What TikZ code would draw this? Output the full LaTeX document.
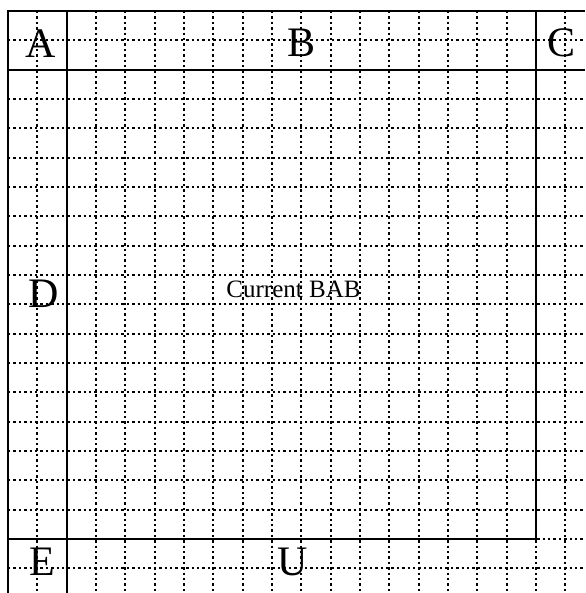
\documentclass[tikz,border=0pt]{standalone}
\usepackage{fontspec}
\setmainfont{Liberation Serif}
\usetikzlibrary{positioning}

\begin{document}
\begin{tikzpicture}[x=1pt,y=-1pt,
  gridline/.style={line width=1.8pt,dash pattern=on 2.4pt off 3pt},
  frameline/.style={line width=1.9pt},
  biglabel/.style={anchor=base,inner sep=0pt,font=\fontsize{42}{48}\selectfont},
  smalllabel/.style={anchor=base,inner sep=0pt,font=\fontsize{25}{30}\selectfont}]
\useasboundingbox (0,0) rectangle (585,593);
\fill[white] (0,0) rectangle (585,593);
% dotted grid
\foreach \k in {1,...,19} {
  \draw[gridline] ({8+\k*29.333},11) -- ({8+\k*29.333},593);
  \draw[gridline] (8,{11+\k*29.333}) -- (585,{11+\k*29.333});
}
% solid frame
\coordinate (tl) at (8,11);
\coordinate (tr) at (585,11);
\coordinate (bl) at (8,593);
\coordinate (hl) at (8,69.7);
\coordinate (hr) at (585,69.7);
\coordinate (vt) at (66.7,11);
\coordinate (vb) at (66.7,593);
\coordinate (rt) at (536,11);
\coordinate (rb) at (536,539);
\coordinate (lb) at (8,539);
\draw[frameline] (bl) -- (tl) -- (tr);
\draw[frameline] (hl) -- (hr);
\draw[frameline] (vt) -- (vb);
\draw[frameline] (rt) -- (rb) -- (lb);
% labels
\node[biglabel] (la) at (41,58) {A};
\node[biglabel] (lb2) at (302,57) {B};
\node[biglabel] (lc) at (561,57) {C};
\node[biglabel] (ld) at (44,307) {D};
\node[biglabel] (le) at (42,575) {E};
\node[biglabel] (lu) at (293,575) {U};
\node[smalllabel] (cur) at (293.5,297.5) {Current BAB};
\end{tikzpicture}
\end{document}
